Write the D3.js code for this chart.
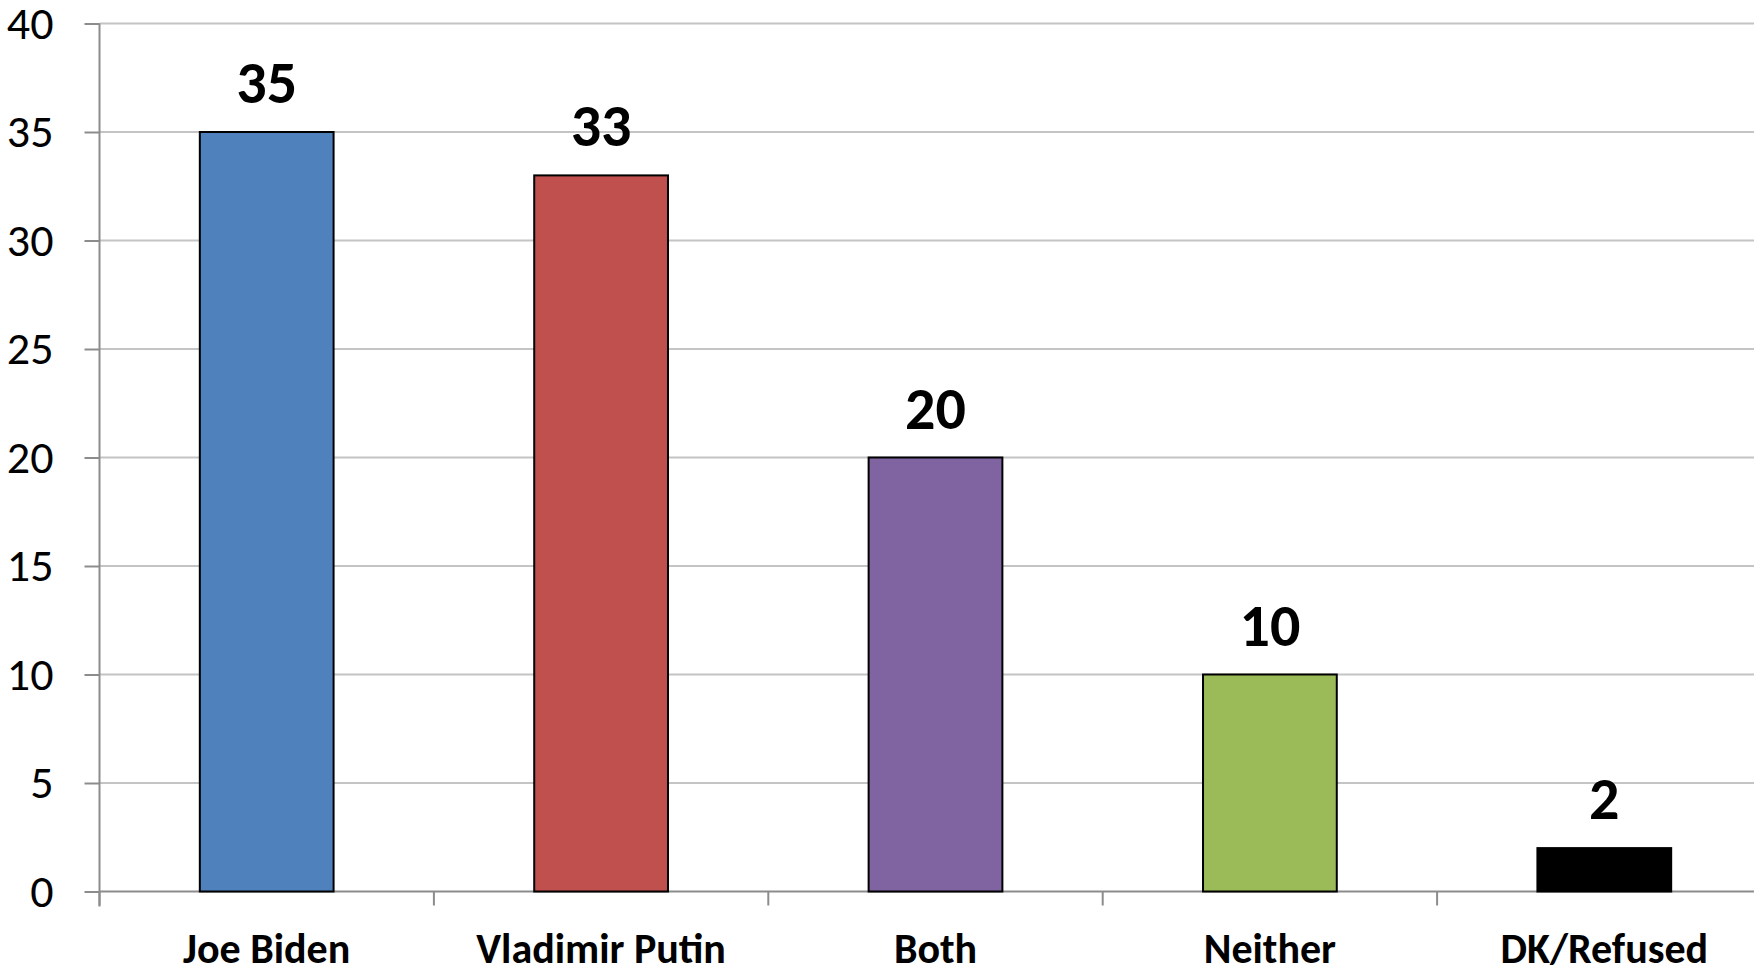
<!DOCTYPE html>
<html>
<head>
<meta charset="utf-8">
<script src="https://cdn.jsdelivr.net/npm/d3@7"></script>
<style>
  body { margin: 0; background: #fff; }
  svg { display: block; }
</style>
</head>
<body>
<div id="chart"></div>
<script>

var categories = ["Joe Biden", "Vladimir Putin", "Both", "Neither", "DK/Refused"];
var values = [35, 33, 20, 10, 2];
var barColors = ["#4F81BD", "#C0504D", "#8064A2", "#9BBB59", "#000000"];
var yTicks = [0, 5, 10, 15, 20, 25, 30, 35, 40];

var width = 1754, height = 969;
var font = "Carlito, Lato, 'Open Sans', sans-serif";

var svg = d3.select("#chart").append("svg")
    .attr("width", width)
    .attr("height", height);

var x = d3.scaleBand()
    .domain(categories)
    .range([99.5, 1771.5])
    .paddingInner(0.6)
    .paddingOuter(0.3);

var y = d3.scaleLinear()
    .domain([0, 40])
    .range([891.5, 23.5]);

// gridlines
svg.append("g")
    .selectAll("line")
    .data(yTicks.filter(function(d) { return d > 0; }))
  .enter().append("line")
    .attr("x1", 99.5)
    .attr("x2", width)
    .attr("y1", function(d) { return y(d); })
    .attr("y2", function(d) { return y(d); })
    .style("stroke", "#C4C4C4")
    .style("stroke-width", 2);

// y axis
var yAxis = svg.append("g")
    .attr("transform", "translate(99.5,0)")
    .call(d3.axisLeft(y).tickValues(yTicks).tickSize(15).tickPadding(31));
yAxis.select(".domain").attr("d", "M0," + y(40) + "V" + (y(0) + 15))
    .style("stroke", "#8C8C8C").style("stroke-width", 2);
yAxis.selectAll(".tick line").style("stroke", "#8C8C8C").style("stroke-width", 2);
yAxis.selectAll(".tick text")
    .style("font-family", font)
    .style("font-size", "46px")
    .style("fill", "#000");

// x axis
var bounds = categories.map(function(c) { return x(c) - x.step() * 0.3; });
var xAxis = svg.append("g");
xAxis.append("line")
    .attr("x1", 99.5).attr("x2", width)
    .attr("y1", y(0)).attr("y2", y(0))
    .style("stroke", "#8C8C8C").style("stroke-width", 2);
xAxis.selectAll(".xtick")
    .data(bounds)
  .enter().append("line")
    .attr("class", "xtick")
    .attr("x1", function(d) { return d; })
    .attr("x2", function(d) { return d; })
    .attr("y1", y(0))
    .attr("y2", y(0) + 14)
    .style("stroke", "#8C8C8C").style("stroke-width", 2);

xAxis.selectAll(".xlabel")
    .data(categories)
  .enter().append("text")
    .attr("class", "xlabel")
    .attr("x", function(d) { return x(d) + x.bandwidth() / 2; })
    .attr("y", 963)
    .attr("text-anchor", "middle")
    .style("font-family", font)
    .style("font-weight", "bold")
    .style("font-size", "42px")
    .text(function(d) { return d; });

// bars
svg.append("g")
    .selectAll("rect")
    .data(values)
  .enter().append("rect")
    .attr("x", function(d, i) { return x(categories[i]); })
    .attr("y", function(d) { return y(d); })
    .attr("width", x.bandwidth())
    .attr("height", function(d) { return y(0) - y(d); })
    .style("fill", function(d, i) { return barColors[i]; })
    .style("stroke", "#000")
    .style("stroke-width", 2);

// value labels
svg.append("g")
    .selectAll("text")
    .data(values)
  .enter().append("text")
    .attr("x", function(d, i) { return x(categories[i]) + x.bandwidth() / 2; })
    .attr("y", function(d) { return y(d) - 29; })
    .attr("text-anchor", "middle")
    .style("font-family", font)
    .style("font-weight", "bold")
    .style("font-size", "60px")
    .text(function(d) { return d; });

</script>
</body>
</html>
